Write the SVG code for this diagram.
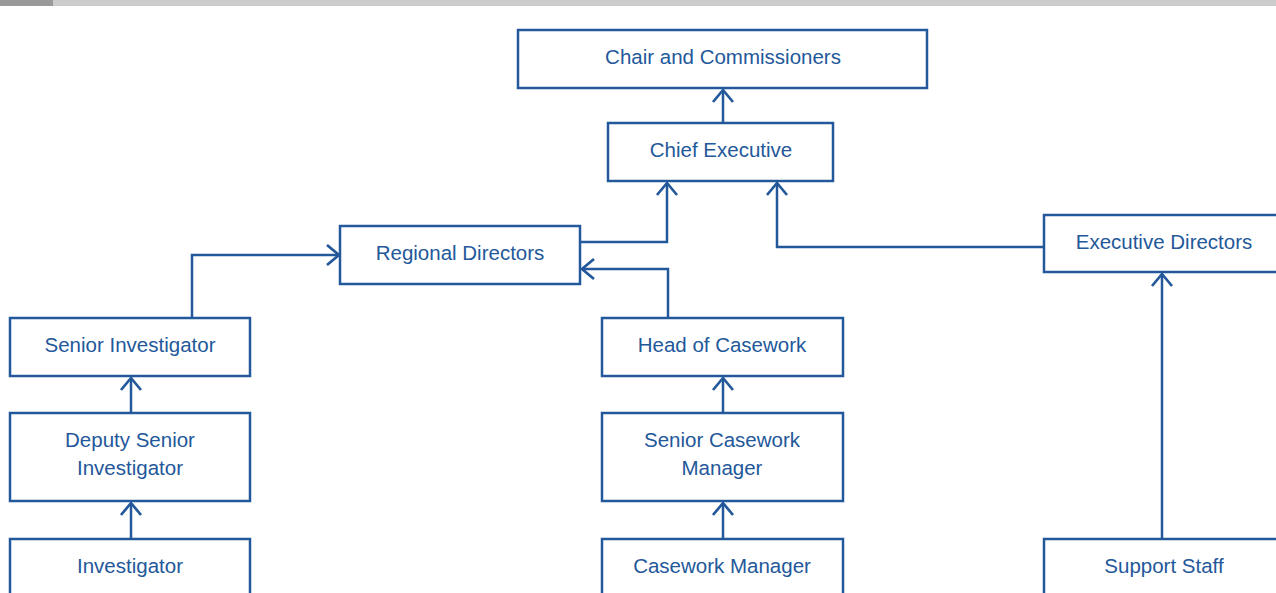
<svg xmlns="http://www.w3.org/2000/svg" width="1276" height="593" viewBox="0 0 1276 593">
<style>
.box{fill:#fff;stroke:#23589a;stroke-width:2.5}
.t{font-family:"Liberation Sans","Noto Sans",Arial,sans-serif;font-size:20.5px;fill:#23589a;text-anchor:middle}
.c{fill:none;stroke:#23589a;stroke-width:2.5}
</style>
<defs>
<marker id="ah" markerUnits="userSpaceOnUse" markerWidth="30" markerHeight="30" viewBox="-15 -15 30 30" refX="0" refY="0" orient="auto">
<path d="M-12,-10 L0,0 L-12,10" fill="none" stroke="#23589a" stroke-width="2.7"/>
</marker>
</defs>
<rect x="0" y="0" width="1276" height="6" fill="#cccccc"/>
<rect x="0" y="0" width="53" height="6" fill="#999999"/>
<g id="connectors">
<path class="c" d="M723,123 V90" marker-end="url(#ah)"/>
<path class="c" d="M581,242 H667 V183" marker-end="url(#ah)"/>
<path class="c" d="M1044,247 H777 V183" marker-end="url(#ah)"/>
<path class="c" d="M668,318 V269 H582" marker-end="url(#ah)"/>
<path class="c" d="M192,318 V255 H339" marker-end="url(#ah)"/>
<path class="c" d="M131,413 V378" marker-end="url(#ah)"/>
<path class="c" d="M131,539 V503" marker-end="url(#ah)"/>
<path class="c" d="M723,413 V378" marker-end="url(#ah)"/>
<path class="c" d="M723,539 V503" marker-end="url(#ah)"/>
<path class="c" d="M1162,539 V274" marker-end="url(#ah)"/>
</g>
<g id="chair"><rect class="box" x="518" y="30" width="409" height="58"/><text class="t" x="723" y="64">Chair and Commissioners</text></g>
<g id="chief"><rect class="box" x="608" y="123" width="225" height="58"/><text class="t" x="721" y="157">Chief Executive</text></g>
<g id="regional"><rect class="box" x="340" y="226" width="240" height="58"/><text class="t" x="460" y="260">Regional Directors</text></g>
<g id="execdir"><rect class="box" x="1044" y="215" width="240" height="57"/><text class="t" x="1164" y="249">Executive Directors</text></g>
<g id="seniorinv"><rect class="box" x="10" y="318" width="240" height="58"/><text class="t" x="130" y="352">Senior Investigator</text></g>
<g id="deputy"><rect class="box" x="10" y="413" width="240" height="88"/><text class="t" x="130" y="447">Deputy Senior</text><text class="t" x="130" y="475">Investigator</text></g>
<g id="investigator"><rect class="box" x="10" y="539" width="240" height="70"/><text class="t" x="130" y="573">Investigator</text></g>
<g id="headcase"><rect class="box" x="602" y="318" width="241" height="58"/><text class="t" x="722" y="352">Head of Casework</text></g>
<g id="seniorcase"><rect class="box" x="602" y="413" width="241" height="88"/><text class="t" x="722" y="447">Senior Casework</text><text class="t" x="722" y="475">Manager</text></g>
<g id="casemgr"><rect class="box" x="602" y="539" width="241" height="70"/><text class="t" x="722" y="573">Casework Manager</text></g>
<g id="support"><rect class="box" x="1044" y="539" width="240" height="70"/><text class="t" x="1164" y="573">Support Staff</text></g>
</svg>
